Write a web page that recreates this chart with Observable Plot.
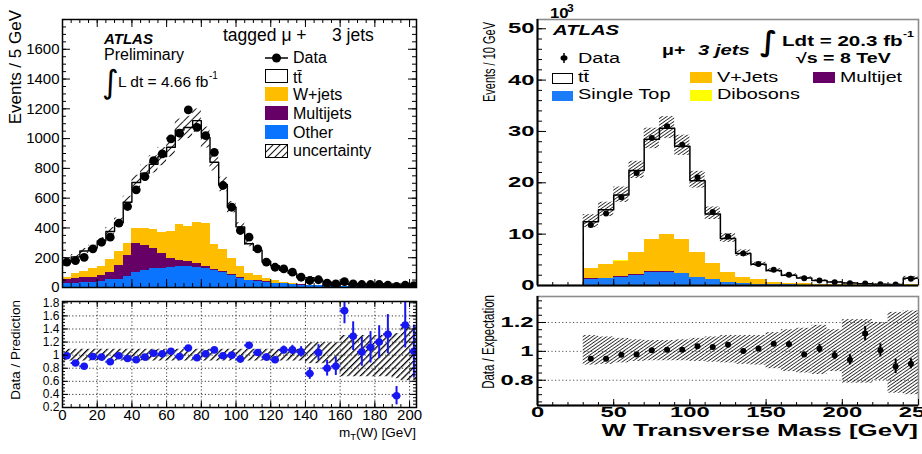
<!DOCTYPE html>
<html><head><meta charset="utf-8">
<script src="https://cdn.jsdelivr.net/npm/d3@7"></script>
<script src="https://cdn.jsdelivr.net/npm/@observablehq/plot@0.6"></script>
<style>
html,body{margin:0;padding:0;background:#fff;}
#root{position:relative;width:922px;height:454px;overflow:hidden;background:#fff;}
#root svg{position:absolute;overflow:visible;}
</style></head><body>
<svg width="0" height="0" style="position:absolute;left:0;top:0">
 <defs>
  <pattern id="hatchL" patternUnits="userSpaceOnUse" width="5" height="5" patternTransform="rotate(45)"><rect x="0" y="0" width="0.9" height="5" fill="#000"/></pattern>
  <pattern id="hatchLR" patternUnits="userSpaceOnUse" width="4.5" height="4.5" patternTransform="rotate(45)"><rect x="0" y="0" width="1.3" height="4.5" fill="#000"/></pattern>
  <pattern id="hatchR" patternUnits="userSpaceOnUse" width="2.7" height="2.7" patternTransform="rotate(55)"><rect x="0" y="0" width="0.75" height="2.7" fill="#000"/></pattern>
 </defs>
</svg>
<div id="root"></div>
<script>
// ================= LEFT PANEL DATA (m_T(W), 5 GeV bins from 0 GeV) =================
const L_binWidth = 5;
const L_data = [170,181,203,260,304,338,432,544,656,745,852,897,998,1036,1193,1076,1020,908,685,539,383,338,260,170,136,125,103,69,47,52,29,25,40,25,20,20,20,15,8,15,12];
const L_other = [29,29,34,34,40,51,56,72,103,114,125,130,136,143,140,136,130,114,103,80,62,47,43,36,29,25,20,16,13,11,10,10,9,8,7,6,6,5,5,4,4];
const L_multijet = [22,29,31,35,40,49,94,146,192,168,135,96,56,38,32,27,11,8,6,5,4,3,3,2,1,1,1,1,1,1,1,0,0,0,0,0,0,0,0,0,0];
const L_wjets = [18,38,42,56,63,85,90,79,102,115,127,145,186,239,239,271,291,167,146,110,72,45,35,20,17,10,4,3,2,1,1,1,1,1,1,1,1,1,1,1,1];
const L_ttbar = [103,110,138,140,170,191,196,276,308,371,440,508,564,637,664,687,575,552,437,344,269,199,169,117,99,80,70,46,49,37,24,19,14,10,11,11,10,5,7,5,6];
// relative uncertainty of the prediction in the upper panel
const L_mainUnc = [0.07,0.07,0.07,0.07,0.07,0.07,0.07,0.07,0.07,0.07,0.07,0.07,0.07,0.07,0.07,0.07,0.07,0.07,0.07,0.07,0.07,0.07,0.07,0.07,0.07,0.07,0.07,0.07,0.15,0.15,0.15,0.15,0.3,0.3,0.3,0.3,0.3,0.3,0.35,0.4,0.4];
const L_ratio = [0.99,0.88,0.83,0.98,0.97,0.90,0.99,0.95,0.93,0.97,1.03,1.02,1.06,0.98,1.11,0.96,1.02,1.08,0.99,1.00,0.94,1.15,1.04,0.97,0.93,1.08,1.08,1.05,0.72,1.04,0.80,0.83,1.68,1.29,1.05,1.12,1.20,1.32,0.38,1.46,1.06];
const L_ratioErr = [0.03,0.03,0.03,0.03,0.03,0.03,0.03,0.03,0.02,0.02,0.02,0.02,0.02,0.02,0.02,0.02,0.02,0.02,0.02,0.03,0.03,0.04,0.04,0.05,0.05,0.06,0.07,0.08,0.09,0.12,0.12,0.14,0.2,0.22,0.22,0.24,0.25,0.3,0.14,0.35,0.4];
const L_bandLo = [0.91,0.91,0.91,0.91,0.91,0.91,0.91,0.91,0.91,0.91,0.91,0.91,0.91,0.91,0.91,0.91,0.91,0.91,0.91,0.91,0.91,0.91,0.91,0.91,0.91,0.91,0.91,0.91,0.87,0.87,0.87,0.87,0.67,0.67,0.67,0.67,0.67,0.67,0.64,0.61,0.61];
const L_bandHi = [1.09,1.09,1.09,1.09,1.09,1.09,1.09,1.09,1.09,1.09,1.09,1.09,1.09,1.09,1.09,1.09,1.09,1.09,1.09,1.09,1.09,1.09,1.09,1.09,1.09,1.09,1.09,1.09,1.19,1.19,1.19,1.19,1.30,1.30,1.30,1.30,1.30,1.30,1.33,1.43,1.43];
const L_yTicks = [0,200,400,600,800,1000,1200,1400,1600];
const L_xTicks = [0,20,40,60,80,100,120,140,160,180,200];
const L_ryTicks = [0.2,0.4,0.6,0.8,1,1.2,1.4,1.6,1.8];
const L_ryGrid = [0.4,0.6,0.8,1,1.2,1.4,1.6];
const L_rxGrid = [20,40,60,80,100,120,140,160,180,200];

// ================= RIGHT PANEL DATA (W transverse mass, 10 GeV bins from 30 GeV, in 10^3 events) =================
const R_binWidth = 10;
const R_binStart = 30;
const R_data = [11.8,14.0,17.2,21.9,28.7,31.0,27.4,21.1,14.3,9.55,6.25,4.2,3.05,2.08,1.43,0.97,0.65,0.45,0.39,0.26,0.20,1.3];
const R_singleTop = [1.15,1.3,1.6,1.95,2.55,2.6,2.35,1.6,1.1,0.55,0.32,0.2,0.15,0.11,0.08,0.06,0.05,0.04,0.03,0.03,0.02,0.03];
const R_multijet = [0.15,0.15,0.15,0.12,0.1,0.08,0.06,0.05,0.04,0.03,0.02,0.02,0.01,0.01,0.01,0.01,0,0,0,0,0,0];
const R_vjets = [2.08,2.64,2.99,4.36,6.25,7.26,6.49,4.8,3.06,1.97,1.21,0.88,0.49,0.33,0.23,0.19,0.15,0.14,0.11,0.09,0.08,0.22];
const R_dibosons = [0.02,0.03,0.04,0.05,0.06,0.07,0.06,0.05,0.04,0.03,0.02,0.02,0.01,0.01,0.01,0.01,0.01,0.01,0,0,0,0];
const R_ttbar = [9.03,10.63,12.82,15.92,19.54,20.59,18.14,13.9,9.66,6.55,4.67,3.0,2.24,1.52,1.13,0.68,0.46,0.29,0.2,0.13,0.11,1.14];
const R_ratio = [0.949,0.949,0.977,0.979,1.007,1.012,1.012,1.035,1.03,1.046,1.002,1.019,1.053,1.049,0.979,1.019,0.972,0.942,1.123,1.007,0.896,0.914];
const R_ratioErr = [0.008,0.008,0.007,0.006,0.005,0.005,0.005,0.006,0.007,0.009,0.011,0.013,0.016,0.02,0.015,0.03,0.03,0.035,0.05,0.045,0.05,0.035];
const R_bandLo = [0.905,0.91,0.92,0.93,0.935,0.935,0.935,0.93,0.925,0.92,0.91,0.905,0.88,0.86,0.85,0.84,0.86,0.78,0.78,0.80,0.71,0.70];
const R_bandHi = [1.11,1.10,1.09,1.08,1.075,1.075,1.08,1.09,1.10,1.11,1.11,1.11,1.13,1.15,1.16,1.18,1.15,1.22,1.22,1.20,1.27,1.28];
const R_yTicks = [0,10,20,30,40,50];
const R_xTicks = [0,50,100,150,200,250];
const R_ryTicks = [0.8,1,1.2];

// ================= STYLE =================
const FF = '"Liberation Sans", Arial, Helvetica, sans-serif';
const C = {orange:"#ffbd00", purple:"#660066", blueL:"#0a74ff", blueR:"#1a7cf6", yellow:"#ffff00", ratioBlue:"#1717f2"};
const root = document.getElementById("root");
const fmt = d => String(+(+d).toFixed(2));

function stackRows(x0, w, comps) {
  const rows = [];
  x0.forEach((x, i) => { let acc = 0; comps.forEach(c => { const v = c.v[i]; rows.push({x1: x, x2: x + w, y1: acc, y2: acc + v, color: c.c}); acc += v; }); });
  return rows;
}
function stepPts(x0, w, total, fromZero) {
  const pts = x0.map((x, i) => ({x, y: total[i]}));
  pts.push({x: x0[x0.length - 1] + w, y: total[total.length - 1]});
  if (fromZero) pts.unshift({x: x0[0], y: 0});
  return pts;
}
function edgeTicks(o) {
  const {W, H, sides, xMaj = [], xMin = [], yMaj = [], yMin = [], majX = 8, minX = 4, majY = 8, minY = 4, sw = 1} = o;
  const s = {stroke: "black", strokeWidth: sw};
  const m = [];
  if (sides.includes("left")) m.push(Plot.tickY(yMaj, {y: d => d, insetRight: W - majY, ...s}), Plot.tickY(yMin, {y: d => d, insetRight: W - minY, ...s}));
  if (sides.includes("right")) m.push(Plot.tickY(yMaj, {y: d => d, insetLeft: W - majY, ...s}), Plot.tickY(yMin, {y: d => d, insetLeft: W - minY, ...s}));
  if (sides.includes("bottom")) m.push(Plot.tickX(xMaj, {x: d => d, insetTop: H - majX, ...s}), Plot.tickX(xMin, {x: d => d, insetTop: H - minX, ...s}));
  if (sides.includes("top")) m.push(Plot.tickX(xMaj, {x: d => d, insetBottom: H - majX, ...s}), Plot.tickX(xMin, {x: d => d, insetBottom: H - minX, ...s}));
  return m;
}
function place(el, left, top) { el.style.left = left + "px"; el.style.top = top + "px"; root.appendChild(el); return el; }
function stretchTexts(svg, s) {
  svg.querySelectorAll("text").forEach(t => {
    let tr = t.getAttribute("transform");
    if (!tr) { const x = +(t.getAttribute("x") || 0); t.removeAttribute("x"); tr = `translate(${x},0)`; }
    t.setAttribute("transform", tr + ` scale(${s},1)`);
  });
}
const baseStyle = {fontFamily: FF, color: "black", background: "transparent", overflow: "visible"};

// ================= LEFT MAIN =================
const Lx0 = L_data.map((_, i) => i * L_binWidth);
const L_comps = [{v: L_other, c: C.blueL}, {v: L_multijet, c: C.purple}, {v: L_wjets, c: C.orange}, {v: L_ttbar, c: "white"}];
const L_total = Lx0.map((_, i) => L_comps.reduce((s, c) => s + c.v[i], 0));
const leftMain = Plot.plot({
  width: 430, height: 295, marginLeft: 62, marginRight: 14, marginTop: 19, marginBottom: 8,
  x: {domain: [0, 204], axis: null}, y: {domain: [0, 1800]},
  color: {type: "identity"},
  style: {...baseStyle, fontSize: "15px"},
  marks: [
    Plot.rect(stackRows(Lx0, L_binWidth, L_comps), {x1: "x1", x2: "x2", y1: "y1", y2: "y2", fill: "color", clip: true, shapeRendering: "crispEdges"}),
    Plot.rect(Lx0, {x1: d => d, x2: d => d + L_binWidth, y1: (d, i) => L_total[i] * (1 - L_mainUnc[i]), y2: (d, i) => L_total[i] * (1 + L_mainUnc[i]), fill: "url(#hatchL)", clip: true}),
    Plot.line(stepPts(Lx0, L_binWidth, L_total, false), {x: "x", y: "y", curve: "step-after", stroke: "black", strokeWidth: 1.4, clip: true}),
    Plot.dot(Lx0, {x: d => d + L_binWidth / 2, y: (d, i) => L_data[i], r: 4.4, fill: "black", stroke: "none", clip: true}),
    ...edgeTicks({W: 354, H: 268, sides: ["left", "right", "bottom", "top"], xMaj: L_xTicks, xMin: d3.range(0, 205, 5), yMaj: L_yTicks, yMin: d3.range(0, 1801, 50), majX: 8, minX: 4, majY: 8, minY: 4}),
    Plot.axisY(L_yTicks, {tickSize: 0, tickPadding: 3, tickFormat: fmt, label: null}),
    Plot.frame({stroke: "black", strokeWidth: 1.5})
  ]
});
place(leftMain, 0, 0);

// ================= LEFT RATIO =================
const leftRatio = Plot.plot({
  width: 430, height: 164, marginLeft: 62, marginRight: 14, marginTop: 11, marginBottom: 47,
  x: {domain: [0, 204]}, y: {domain: [0.2, 1.82]},
  style: {...baseStyle, fontSize: "15px"},
  marks: [
    Plot.ruleX(L_rxGrid, {x: d => d, stroke: "#222", strokeDasharray: "1.2,2.2", strokeWidth: 0.9}),
    Plot.ruleY(L_ryGrid, {y: d => d, stroke: "#222", strokeDasharray: "1.2,2.2", strokeWidth: 0.9}),
    Plot.rect(Lx0, {x1: d => d, x2: d => d + L_binWidth, y1: (d, i) => L_bandLo[i], y2: (d, i) => L_bandHi[i], fill: "url(#hatchLR)", clip: true}),
    Plot.ruleX(Lx0, {x: d => d + L_binWidth / 2, y1: (d, i) => L_ratio[i] - L_ratioErr[i], y2: (d, i) => L_ratio[i] + L_ratioErr[i], stroke: C.ratioBlue, strokeWidth: 2, clip: true}),
    Plot.ruleY(Lx0, {y: (d, i) => L_ratio[i], x1: d => d, x2: d => d + L_binWidth, stroke: C.ratioBlue, strokeWidth: 2, clip: true}),
    Plot.dot(Lx0, {x: d => d + L_binWidth / 2, y: (d, i) => L_ratio[i], r: 3.8, fill: C.ratioBlue, stroke: "none", clip: true}),
    ...edgeTicks({W: 354, H: 106, sides: ["left", "right", "bottom", "top"], xMaj: L_xTicks, xMin: d3.range(0, 205, 5), yMaj: L_ryTicks, yMin: d3.range(0.2, 1.82, 0.05), majX: 6, minX: 3, majY: 6, minY: 3}),
    Plot.axisY(L_ryTicks, {tickSize: 0, tickPadding: 3, tickFormat: fmt, label: null, fontSize: 12}),
    Plot.axisX(L_xTicks, {tickSize: 0, tickPadding: 2, tickFormat: fmt, label: null}),
    Plot.frame({stroke: "black", strokeWidth: 1.5})
  ]
});
place(leftRatio, 0, 290);

// ================= RIGHT MAIN =================
const Rx0 = R_data.map((_, i) => R_binStart + i * R_binWidth);
const R_comps = [{v: R_singleTop, c: C.blueR}, {v: R_multijet, c: C.purple}, {v: R_vjets, c: C.orange}, {v: R_dibosons, c: C.yellow}, {v: R_ttbar, c: "white"}];
const R_total = Rx0.map((_, i) => R_comps.reduce((s, c) => s + c.v[i], 0));
const rightMain = Plot.plot({
  width: 452, height: 290, marginLeft: 67, marginRight: 4, marginTop: 19, marginBottom: 5,
  x: {domain: [0, 250], axis: null}, y: {domain: [0, 51.8]},
  color: {type: "identity"},
  style: {...baseStyle, fontSize: "14px", fontWeight: "bold"},
  marks: [
    Plot.rect(stackRows(Rx0, R_binWidth, R_comps), {x1: "x1", x2: "x2", y1: "y1", y2: "y2", fill: "color", clip: true, shapeRendering: "crispEdges"}),
    Plot.rect(Rx0, {x1: d => d, x2: d => d + R_binWidth, y1: (d, i) => R_total[i] * R_bandLo[i], y2: (d, i) => R_total[i] * R_bandHi[i], fill: "url(#hatchR)", clip: true}),
    Plot.line(stepPts(Rx0, R_binWidth, R_total, true), {x: "x", y: "y", curve: "step-after", stroke: "black", strokeWidth: 1.5, clip: true}),
    Plot.dot(Rx0, {x: d => d + R_binWidth / 2, y: (d, i) => R_data[i], r: 3, fill: "black", stroke: "none", clip: true}),
    Plot.frame({stroke: "#8c8c8c", strokeWidth: 1.6}),
    ...edgeTicks({W: 381, H: 266, sides: ["left", "bottom"], xMaj: R_xTicks, xMin: d3.range(0, 251, 10), yMaj: R_yTicks, yMin: d3.range(0, 52, 2), majX: 6, minX: 3, majY: 9, minY: 5}),
    Plot.ruleX([0], {stroke: "black", strokeWidth: 2}),
    Plot.ruleY([0], {stroke: "black", strokeWidth: 2}),
    Plot.axisY(R_yTicks, {tickSize: 0, tickPadding: 3, tickFormat: fmt, label: null})
  ]
});
stretchTexts(rightMain, 1.7);
place(rightMain, 470, 0);

// ================= RIGHT RATIO =================
const rightRatio = Plot.plot({
  width: 452, height: 164, marginLeft: 67, marginRight: 4, marginTop: 6, marginBottom: 49,
  x: {domain: [0, 250]}, y: {domain: [0.625, 1.38]},
  style: {...baseStyle, fontSize: "14px", fontWeight: "bold"},
  marks: [
    Plot.ruleY(R_ryTicks, {y: d => d, stroke: "#555", strokeDasharray: "1.2,2.4", strokeWidth: 1}),
    Plot.rect(Rx0, {x1: d => d, x2: d => d + R_binWidth, y1: (d, i) => R_bandLo[i], y2: (d, i) => R_bandHi[i], fill: "url(#hatchR)", clip: true}),
    Plot.ruleX(Rx0, {x: d => d + R_binWidth / 2, y1: (d, i) => R_ratio[i] - R_ratioErr[i], y2: (d, i) => R_ratio[i] + R_ratioErr[i], stroke: "black", strokeWidth: 2, clip: true}),
    Plot.dot(Rx0, {x: d => d + R_binWidth / 2, y: (d, i) => R_ratio[i], r: 3, fill: "black", stroke: "none", clip: true}),
    Plot.frame({stroke: "#8c8c8c", strokeWidth: 1.6}),
    ...edgeTicks({W: 381, H: 109, sides: ["left", "bottom"], xMaj: R_xTicks, xMin: d3.range(0, 251, 10), yMaj: R_ryTicks, yMin: d3.range(0.65, 1.38, 0.05), majX: 6, minX: 3, majY: 9, minY: 5}),
    Plot.ruleX([0], {stroke: "black", strokeWidth: 2}),
    Plot.ruleY([0.625], {stroke: "black", strokeWidth: 2}),
    Plot.axisY(R_ryTicks, {tickSize: 0, tickPadding: 4, tickFormat: fmt, label: null}),
    Plot.axisX(R_xTicks, {tickSize: 0, tickPadding: 2, tickFormat: fmt, label: null})
  ]
});
stretchTexts(rightRatio, 1.7);
place(rightRatio, 470, 290);

// ================= ANNOTATIONS & LEGENDS =================
const ov = d3.select(root).append("svg").attr("width", 922).attr("height", 454)
  .style("left", "0px").style("top", "0px").style("pointer-events", "none").attr("font-family", FF);
function txt(x, y, s, o = {}) {
  const {size = 16, weight = "normal", style = "normal", anchor = "start", sx = 1, rot = 0, family = null} = o;
  let tr = `translate(${x},${y})`;
  if (rot) tr += ` rotate(${rot})`;
  if (sx !== 1) tr += rot ? ` scale(1,${sx})` : ` scale(${sx},1)`;
  const t = ov.append("text").attr("transform", tr).attr("font-size", size).attr("font-weight", weight)
    .attr("font-style", style).attr("text-anchor", anchor).attr("fill", "black").text(s);
  if (family) t.attr("font-family", family);
  return t;
}
function box(x, y, w, h, fill, stroke) {
  ov.append("rect").attr("x", x).attr("y", y).attr("width", w).attr("height", h).attr("fill", fill)
    .attr("stroke", stroke || "none").attr("stroke-width", stroke ? 1 : 0);
}
// left texts
txt(104, 44, "ATLAS", {size: 15, weight: "bold", style: "italic"});
txt(104, 60, "Preliminary", {size: 16});
txt(102, 93, "\u222B", {size: 32, family: '"DejaVu Sans"'});
txt(118, 87, "L dt = 4.66 fb", {size: 15.5});
txt(209, 79, "-1", {size: 10});
txt(223, 41, "tagged \u03BC +", {size: 17.5});
txt(332, 41, "3 jets", {size: 17.5});
// left legend
ov.append("line").attr("x1", 265).attr("x2", 288).attr("y1", 58).attr("y2", 58).attr("stroke", "black").attr("stroke-width", 1.5);
ov.append("circle").attr("cx", 276.5).attr("cy", 58).attr("r", 4.5).attr("fill", "black");
txt(293, 63, "Data", {size: 16});
box(265.5, 69.5, 22, 13, "white", "black");
txt(293, 83, "tt\u0304", {size: 16});
box(265, 87, 23, 14, C.orange);
txt(293, 100, "W+jets", {size: 16});
box(265, 106, 23, 14, C.purple);
txt(293, 119, "Multijets", {size: 16});
box(265, 125, 23, 14, C.blueL);
txt(293, 138, "Other", {size: 16});
box(265.5, 144.5, 22, 13, "url(#hatchL)", "black");
txt(293, 156, "uncertainty", {size: 16});
// left axis titles
txt(21, 10, "Events / 5 GeV", {size: 17, rot: -90, anchor: "end"});
txt(20, 300, "Data / Prediction", {size: 13.5, rot: -90, anchor: "end"});
const xt = ov.append("text").attr("transform", "translate(416,437)").attr("text-anchor", "end").attr("font-size", 13.5).attr("fill", "black");
xt.append("tspan").text("m");
xt.append("tspan").attr("font-size", 9.5).attr("dy", 3).text("T");
xt.append("tspan").attr("dy", -3).text("(W) [GeV]");

// right texts
txt(550, 18, "10", {size: 14, weight: "bold", sx: 1.2});
txt(567, 12, "3", {size: 10, weight: "bold", sx: 1.2});
txt(553, 35, "ATLAS", {size: 14, weight: "bold", style: "italic", sx: 1.45});
ov.append("line").attr("x1", 564).attr("x2", 564).attr("y1", 53).attr("y2", 63).attr("stroke", "black").attr("stroke-width", 1.5);
ov.append("ellipse").attr("cx", 564).attr("cy", 58).attr("rx", 3.5).attr("ry", 2.8).attr("fill", "black");
txt(578, 63, "Data", {size: 14, sx: 1.42});
box(552.5, 73.5, 20, 10, "white", "black");
txt(578, 82, "tt\u0304", {size: 14, sx: 1.42});
box(552, 91, 21, 10, C.blueR);
txt(578, 99, "Single Top", {size: 14, sx: 1.42});
box(690, 72, 22, 11, C.orange);
txt(717, 82, "V+Jets", {size: 14, sx: 1.42});
box(690, 90, 22, 11, C.yellow);
txt(717, 99, "Dibosons", {size: 14, sx: 1.42});
box(813, 72, 22, 11, C.purple);
txt(840, 82, "Multijet", {size: 14, sx: 1.4});
txt(662, 55, "\u03BC+", {size: 14, weight: "bold", sx: 1.4});
txt(698, 55, "3 jets", {size: 14, weight: "bold", style: "italic", sx: 1.45});
txt(760, 51, "\u222B", {size: 28, weight: "bold", family: '"DejaVu Sans"'});
txt(782, 46, "Ldt = 20.3 fb", {size: 14, weight: "bold", sx: 1.47});
txt(903, 37, "-1", {size: 9.5, weight: "bold", sx: 1.3});
txt(796, 63, "\u221As = 8 TeV", {size: 14, weight: "bold", sx: 1.4});
txt(495, 22, "Events / 10 GeV", {size: 11, rot: -90, anchor: "end", sx: 1.5});
txt(494, 295, "Data / Expectation", {size: 11.5, rot: -90, anchor: "end", sx: 1.5});
txt(918, 436, "W Transverse Mass [GeV]", {size: 16, weight: "bold", anchor: "end", sx: 1.62});
</script></body></html>
